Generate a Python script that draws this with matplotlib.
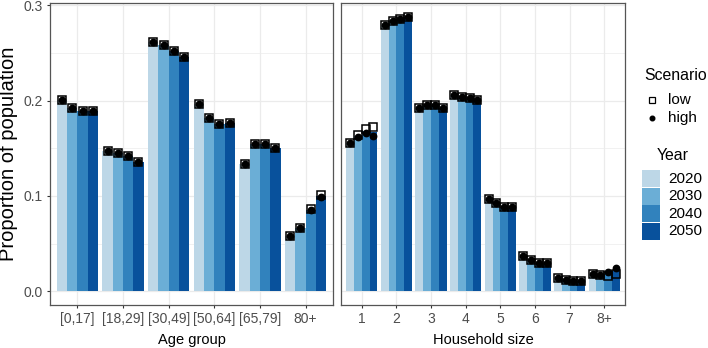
import numpy as np
import matplotlib
matplotlib.use("Agg")
import matplotlib.pyplot as plt
from matplotlib.patches import Rectangle
from matplotlib.lines import Line2D

plt.rcParams["font.family"] = ["Liberation Sans", "DejaVu Sans"]

years = ["2020", "2030", "2040", "2050"]
colors = ["#BDD7E7", "#6BAED6", "#3182BD", "#08519C"]

age_groups = ["[0,17]", "[18,29]", "[30,49]", "[50,64]", "[65,79]", "80+"]
age_low = {
    "2020": [0.201, 0.147, 0.2615, 0.197, 0.134, 0.0575],
    "2030": [0.192, 0.1455, 0.258, 0.1815, 0.155, 0.066],
    "2040": [0.1895, 0.1415, 0.252, 0.176, 0.155, 0.086],
    "2050": [0.1895, 0.136, 0.246, 0.177, 0.150, 0.101],
}
age_high = {
    "2020": [0.201, 0.147, 0.2615, 0.197, 0.134, 0.0575],
    "2030": [0.192, 0.1455, 0.258, 0.1815, 0.155, 0.066],
    "2040": [0.1895, 0.1415, 0.252, 0.176, 0.155, 0.085],
    "2050": [0.1895, 0.136, 0.246, 0.177, 0.150, 0.099],
}

hh_sizes = ["1", "2", "3", "4", "5", "6", "7", "8+"]
hh_low = {
    "2020": [0.1557, 0.279, 0.192, 0.206, 0.097, 0.0373, 0.0136, 0.0178],
    "2030": [0.164, 0.2836, 0.195, 0.204, 0.0923, 0.0324, 0.0115, 0.0167],
    "2040": [0.170, 0.286, 0.195, 0.203, 0.088, 0.0296, 0.0105, 0.0164],
    "2050": [0.172, 0.288, 0.192, 0.2007, 0.088, 0.0296, 0.011, 0.0178],
}
hh_high = {
    "2020": [0.1557, 0.279, 0.192, 0.206, 0.097, 0.0373, 0.0136, 0.0178],
    "2030": [0.162, 0.2836, 0.195, 0.204, 0.0923, 0.0324, 0.0115, 0.0167],
    "2040": [0.166, 0.286, 0.195, 0.203, 0.088, 0.0296, 0.0105, 0.020],
    "2050": [0.163, 0.288, 0.192, 0.2007, 0.088, 0.0296, 0.011, 0.0247],
}

W, H = 708, 348
fig = plt.figure(figsize=(W / 100, H / 100), dpi=100)
ax1 = fig.add_axes([50 / W, 43 / H, 283 / W, 302 / H])
ax2 = fig.add_axes([341 / W, 43 / H, 284 / W, 302 / H])

grid_c = "#EBEBEB"
bw = 0.225


def panel(ax, cats, low, high, xlabel, show_y):
    x = np.arange(len(cats))
    ax.set_xlim(-0.6, len(cats) - 0.4)
    ax.set_ylim(-0.0144, 0.3025)
    for v in [0.05, 0.15, 0.25]:
        ax.axhline(v, color=grid_c, lw=0.5, zorder=0)
    for v in [0, 0.1, 0.2, 0.3]:
        ax.axhline(v, color=grid_c, lw=0.9, zorder=0)
    for xi in x:
        ax.axvline(xi, color=grid_c, lw=0.9, zorder=0)
    for j, yr in enumerate(years):
        lo = np.array(low[yr])
        hi = np.array(high[yr])
        xp = x + (j - 1.5) * bw
        ax.bar(xp, (lo + hi) / 2, width=bw, color=colors[j], zorder=2)
        ax.plot(xp, lo, ls="none", marker="s", ms=6.0, mfc="none", mec="black", mew=1.1, zorder=3)
        ax.plot(xp, hi, ls="none", marker="o", ms=4.6, mfc="black", mec="black", zorder=4)
    ax.set_xticks(x)
    ax.set_xticklabels(cats)
    ax.set_yticks([0, 0.1, 0.2, 0.3])
    ax.set_yticklabels(["0.0", "0.1", "0.2", "0.3"])
    ax.tick_params(axis="both", length=2.5, width=0.8, color="#333333",
                   labelcolor="#4D4D4D", labelsize=10, pad=2.5)
    if not show_y:
        ax.tick_params(axis="y", left=False, labelleft=False)
    for s in ax.spines.values():
        s.set_color("#555555")
        s.set_linewidth(0.9)
    ax.set_xlabel(xlabel, fontsize=10.5, labelpad=5)


panel(ax1, age_groups, age_low, age_high, "Age group", True)
panel(ax2, hh_sizes, hh_low, hh_high, "Household size", False)
ax1.set_ylabel("Proportion of population", fontsize=14.5, labelpad=4)

# legends drawn by hand in figure pixels
def fx(px):
    return px / W


def fy(py):
    return 1 - py / H


fig.text(fx(644), fy(75), "Scenario", fontsize=11.4, va="center", ha="left")
fig.add_artist(Line2D([fx(652)], [fy(100)], transform=fig.transFigure, marker="s", ms=4.5,
                      mfc="none", mec="black", mew=0.9, ls="none"))
fig.text(fx(668), fy(100), "low", fontsize=11, va="center", ha="left")
fig.add_artist(Line2D([fx(652)], [fy(118)], transform=fig.transFigure, marker="o", ms=3.3,
                      mfc="black", mec="black", ls="none"))
fig.text(fx(668), fy(118), "high", fontsize=11, va="center", ha="left")

fig.text(fx(657), fy(155), "Year", fontsize=11.4, va="center", ha="left")
for j, yr in enumerate(years):
    top = 170 + j * 17.5
    fig.add_artist(Rectangle((fx(642), fy(top + 17)), 18 / W, 17 / H,
                             transform=fig.transFigure, color=colors[j], lw=0))
    fig.text(fx(668), fy(top + 8.5), yr, fontsize=11, va="center", ha="left")

fig.savefig("out.png", dpi=100)
